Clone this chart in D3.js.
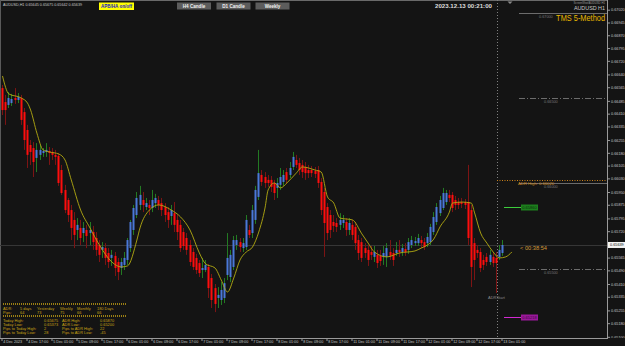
<!DOCTYPE html>
<html><head><meta charset="utf-8">
<script src="https://cdn.jsdelivr.net/npm/d3@7"></script>
<style>
html,body{margin:0;padding:0;background:#141414;overflow:hidden}
svg{display:block}
text{font-family:"Liberation Sans",Arial,sans-serif}
</style></head><body>
<svg id="c" width="625" height="346"></svg>
<script>
// ---------- DATA (AUDUSD H1, 4 Dec 2023 09:00 -> 13 Dec 2023 01:00) ----------
const opens=[.66560,.66478,.66461,.66472,.66502,.66490,.66502,.66419,.66314,.66226,
.66208,.66150,.66168,.66179,.66185,.66191,.66185,.66168,.66162,.66079,
.65962,.65903,.65844,.65786,.65727,.65739,.65709,.65727,.65709,.65715,
.65680,.65639,.65610,.65621,.65592,.65563,.65575,.65539,.65504,.65522,
.65551,.65621,.65727,.65815,.65874,.65903,.65862,.65874,.65856,.65885,
.65903,.65885,.65862,.65832,.65809,.65826,.65786,.65757,.65715,.65680,
.65639,.65598,.65563,.65533,.65492,.65492,.65510,.65445,.65386,.65328,
.65316,.65328,.65463,.65451,.65510,.65639,.65656,.65621,.65627,.65727,
.65709,.65786,.65921,.66050,.66038,.66021,.66021,.66003,.65974,.65992,
.66009,.66067,.66050,.66097,.66138,.66120,.66109,.66097,.66079,.66079,
.66073,.66079,.66009,.65950,.65862,.65815,.65774,.65768,.65757,.65768,
.65774,.65727,.65757,.65745,.65668,.65656,.65621,.65610,.65598,.65569,
.65581,.65575,.65569,.65569,.65598,.65592,.65592,.65610,.65598,.65615,
.65610,.65639,.65650,.65650,.65668,.65656,.65650,.65656,.65715,.65774,
.65826,.65856,.65891,.65933,.65933,.65903,.65891,.65891,.65891,.65891,
.65844,.65650,.65610,.65598,.65551,.65569,.65539,.65569,.65563,.65569,
.65592];
const highs=[.66578,.66520,.66537,.66526,.66560,.66531,.66520,.66443,.66344,.66255,
.66243,.66237,.66226,.66208,.66237,.66214,.66208,.66197,.66179,.66109,
.65992,.65915,.65874,.65832,.65797,.65786,.65774,.65757,.65774,.65751,
.65715,.65668,.65656,.65650,.65621,.65610,.65598,.65563,.65563,.65598,
.65680,.65786,.65874,.65950,.65986,.65950,.65915,.65903,.65962,.65939,
.65927,.65915,.65885,.65862,.65874,.65891,.65815,.65786,.65739,.65709,
.65668,.65621,.65587,.65551,.65563,.65551,.65528,.65469,.65410,.65392,
.65421,.65445,.65709,.65610,.65692,.65698,.65680,.65680,.65815,.65757,
.65874,.65986,.66197,.66079,.66067,.66050,.66044,.66021,.66032,.66091,
.66079,.66091,.66126,.66185,.66168,.66150,.66138,.66126,.66109,.66103,
.66097,.66103,.66032,.65974,.65885,.65844,.65815,.65797,.65826,.65815,
.65797,.65797,.65786,.65774,.65698,.65680,.65650,.65639,.65633,.65633,
.65610,.65610,.65633,.65650,.65668,.65621,.65656,.65668,.65645,.65650,
.65680,.65692,.65686,.65704,.65692,.65680,.65709,.65763,.65832,.65885,
.65927,.65974,.65962,.65962,.65950,.65927,.65915,.65915,.65909,.66109,
.65874,.65680,.65639,.65621,.65581,.65592,.65610,.65592,.65598,.65639,
.65668];
const lows=[.66402,.66344,.66443,.66455,.66467,.66472,.66344,.66197,.66091,.66109,
.66038,.66067,.66138,.66156,.66156,.66109,.66138,.66109,.65986,.65933,
.65826,.65774,.65668,.65621,.65668,.65639,.65656,.65621,.65639,.65610,
.65575,.65539,.65563,.65522,.65504,.65516,.65457,.65433,.65463,.65492,
.65522,.65598,.65698,.65797,.65844,.65832,.65844,.65815,.65832,.65856,
.65844,.65809,.65774,.65739,.65757,.65715,.65668,.65598,.65610,.65581,
.65516,.65492,.65469,.65451,.65445,.65480,.65328,.65269,.65245,.65269,
.65287,.65298,.65433,.65421,.65492,.65610,.65598,.65598,.65610,.65680,
.65680,.65763,.65903,.65986,.65974,.65980,.65950,.65903,.65915,.65962,
.65986,.65998,.66032,.66079,.66091,.66050,.66032,.66021,.66032,.66038,
.66032,.65974,.65815,.65569,.65668,.65680,.65715,.65715,.65727,.65739,
.65692,.65698,.65668,.65610,.65551,.65539,.65563,.65516,.65551,.65539,
.65504,.65516,.65522,.65510,.65551,.65516,.65575,.65569,.65575,.65575,
.65587,.65621,.65633,.65633,.65621,.65610,.65627,.65639,.65698,.65757,
.65809,.65844,.65874,.65891,.65832,.65844,.65850,.65856,.65850,.65639,
.65392,.65433,.65563,.65480,.65492,.65516,.65522,.65510,.65357,.65551,
.65575];
const closes=[.66431,.66431,.66502,.66496,.66490,.66508,.66373,.66255,.66168,.66185,
.66126,.66197,.66197,.66191,.66197,.66179,.66168,.66156,.66003,.65944,
.65844,.65815,.65739,.65698,.65757,.65680,.65739,.65692,.65727,.65656,
.65610,.65581,.65627,.65563,.65539,.65581,.65504,.65480,.65539,.65563,
.65668,.65774,.65856,.65915,.65933,.65874,.65885,.65856,.65903,.65915,
.65874,.65844,.65815,.65786,.65844,.65757,.65715,.65621,.65633,.65610,
.65539,.65510,.65492,.65474,.65504,.65522,.65386,.65316,.65293,.65346,
.65375,.65415,.65563,.65581,.65668,.65668,.65627,.65650,.65786,.65698,
.65844,.65962,.66061,.66009,.66003,.66003,.65980,.65944,.66003,.66038,
.66050,.66021,.66091,.66156,.66109,.66079,.66067,.66061,.66061,.66061,
.66056,.66003,.65844,.65768,.65709,.65727,.65751,.65745,.65786,.65786,
.65727,.65768,.65698,.65650,.65592,.65563,.65592,.65551,.65581,.65598,
.65533,.65545,.65592,.65621,.65575,.65551,.65610,.65598,.65621,.65598,
.65656,.65668,.65662,.65680,.65650,.65627,.65686,.65745,.65803,.65862,
.65903,.65944,.65944,.65915,.65856,.65874,.65874,.65880,.65874,.65680,
.65510,.65551,.65592,.65504,.65522,.65539,.65581,.65533,.65533,.65610,
.65639];
// moving average (yellow line) readings: bar index -> value
const maIdx=[0,2,6,8,9,11,13,15,18,20,22,25,28,31,35,38,40,43,44,47,50,54,57,60,63,65,68,70,72,74,76,78,80,82,84,85,87,89,91,94,96,100,102,104,106,108,112,115,117,119,123,127,132,134,136,138,140,143,144,147,150,151,153,155,157,159,161,163];
const maVal=[.66631,.66526,.66502,.66472,.66431,.66296,.66197,.66185,.66173,.66138,.66021,.65844,.65739,.65639,.65539,.65510,.65516,.65668,.65739,.65844,.65874,.65844,.65803,.65727,.65592,.65528,.65504,.65433,.65363,.65445,.65551,.65598,.65627,.65715,.65856,.65962,.66003,.65974,.66003,.66061,.66097,.66079,.66067,.65921,.65885,.65797,.65786,.65704,.65650,.65598,.65569,.65592,.65604,.65621,.65639,.65674,.65745,.65832,.65885,.65891,.65885,.65832,.65709,.65650,.65598,.65563,.65569,.65598];
// x axis labels
const xTickIdx=[0,8,16,24,32,40,48,56,64,72,80,88,96,104,112,120,128,136,144,152,160];
const xTickLabels=["4 Dec 2023","4 Dec 17:00","5 Dec 01:00","5 Dec 09:00","5 Dec 17:00","6 Dec 01:00","6 Dec 09:00","6 Dec 17:00","7 Dec 01:00","7 Dec 09:00","7 Dec 17:00","8 Dec 01:00","8 Dec 09:00","8 Dec 17:00","11 Dec 01:00","11 Dec 09:00","11 Dec 17:00","12 Dec 01:00","12 Dec 09:00","12 Dec 17:00","13 Dec 01:00"];
// y axis labels
const yTickVals=[0.67020,0.66945,0.66870,0.66795,0.66720,0.66640,0.66565,0.66485,0.66410,0.66335,0.66255,0.66180,0.66105,0.66030,0.65950,0.65875,0.65795,0.65720,0.65565,0.65490,0.65410,0.65335,0.65255,0.65180,0.65100];
// price levels
const roundLevels=[0.67000,0.66500,0.66000,0.65500];
const roundLevelDash=["","6,2,1,2","","6,2,1,2"];
const adrHigh=0.66020;
const greenLevel=0.65860;
const magentaLevel=0.65218;
const adrStartIdx=158.4;
const currentPrice=closes[closes.length-1];
// info panel
const adrHeaders=["ADR:","5 days","Yesterday","Weekly","Monthly","180 Days"];
const adrPips=["Pips:","64","73","75","66","66"];
const panelLeft=[["Today High:","0.65675"],["Today Low:","0.65373"],["Pips to Today High:","2"],["Pips to Today Low:","28"]];
const panelRight=[["ADR High:","0.65870"],["ADR Low:","0.65200"],["Pips to ADR High:","22"],["Pips to ADR Low:","-45"]];

// ---------- DRAW ----------
const W=625,H=346, R=607, B=338;
const svg=d3.select("#c");
svg.append("rect").attr("width",W).attr("height",H).attr("fill","#141414");
const x=d3.scaleLinear().domain([0,160]).range([2,502]);
const y=d3.scaleLinear().domain([0.65093,0.67077]).range([B,0]);

// frame
svg.append("line").attr("x1",0).attr("x2",W).attr("y1",0.5).attr("y2",0.5).attr("stroke","#6a6a6a");
svg.append("line").attr("x1",0.5).attr("x2",0.5).attr("y1",0).attr("y2",B).attr("stroke","#5a5a5a");

// current price line
svg.append("line").attr("x1",0).attr("x2",R).attr("y1",Math.round(y(currentPrice))+0.5).attr("y2",Math.round(y(currentPrice))+0.5).attr("stroke","#363636");

// ADR start vertical dotted line
svg.append("line").attr("x1",Math.round(x(adrStartIdx))+0.5).attr("x2",Math.round(x(adrStartIdx))+0.5).attr("y1",0).attr("y2",B).attr("stroke","#808080").attr("stroke-dasharray","1,2");

// round levels
roundLevels.forEach((v,i)=>{
  const yy=Math.round(y(v))+0.5;
  svg.append("line").attr("x1",519).attr("x2",R).attr("y1",yy).attr("y2",yy).attr("stroke","#6c6c6c").attr("stroke-dasharray",roundLevelDash[i]||null);
  svg.append("text").attr("x",i===0?539:544).attr("y",yy+4.2).attr("fill","#777").style("font-size","3.8px").text(v.toFixed(5));
});
// ADR high orange dotted
{
  const yy=Math.round(y(adrHigh))+0.5;
  svg.append("line").attr("x1",x(adrStartIdx)).attr("x2",R).attr("y1",yy).attr("y2",yy).attr("stroke","#c8801a").attr("stroke-dasharray","1,1.5");
  svg.append("text").attr("x",518).attr("y",yy+4.3).attr("fill","#d08a20").style("font-size","4.2px").text("ADR High: "+adrHigh.toFixed(5));
}
// green / magenta markers
[[greenLevel,"#3ccc3c","#1d7f1d","#0b300b"],[magentaLevel,"#d22ad2","#9a189a","#3a073a"]].forEach(([v,lc,bc,tc])=>{
  const yy=Math.round(y(v))+0.5;
  svg.append("line").attr("x1",x(160)+2).attr("x2",521).attr("y1",yy).attr("y2",yy).attr("stroke",lc).attr("stroke-width",1);
  svg.append("rect").attr("x",521).attr("y",yy-3).attr("width",17).attr("height",6).attr("fill",bc);
  svg.append("text").attr("x",529.5).attr("y",yy+1.5).attr("text-anchor","middle").attr("fill",tc).style("font-size","4px").text(v.toFixed(5));
});

// candles
const bars=d3.range(opens.length).map(i=>({i,o:opens[i],h:highs[i],l:lows[i],c:closes[i]}));
const bull=d=>d.c>d.o;
const small=d=>Math.abs(y(d.o)-y(d.c))<1.6;
const bodyColor=d=>bull(d)?(small(d)?"#8a62d2":"#4a78d8"):(small(d)?"#e8541c":"#ff0d0d");
const wickColor=d=>bull(d)?"#237a23":"#7c1414";
const cg=svg.append("g");
cg.selectAll("rect.w").data(bars).join("rect").attr("class","w")
  .attr("x",d=>Math.round(x(d.i))).attr("width",1)
  .attr("y",d=>y(d.h)).attr("height",d=>Math.max(1,y(d.l)-y(d.h)))
  .attr("fill",wickColor);
cg.selectAll("rect.b").data(bars).join("rect").attr("class","b")
  .attr("x",d=>Math.round(x(d.i))-0.5).attr("width",2)
  .attr("y",d=>y(Math.max(d.o,d.c))).attr("height",d=>Math.max(1,Math.abs(y(d.o)-y(d.c))))
  .attr("fill",bodyColor);

// MA line
const maPts=maIdx.map((k,j)=>[k,maVal[j]]);
svg.append("path").datum(maPts)
  .attr("d",d3.line().x(d=>x(d[0])+0.5).y(d=>y(d[1])).curve(d3.curveMonotoneX))
  .attr("fill","none").attr("stroke","#b4ac12").attr("stroke-width",0.9);

// right axis
svg.append("rect").attr("x",R).attr("y",0).attr("width",W-R).attr("height",H).attr("fill","#141414");
const gy=svg.append("g").attr("transform",`translate(${R},0)`)
  .call(d3.axisRight(y).tickValues(yTickVals).tickFormat(d3.format(".5f")).tickSize(3).tickPadding(1).tickSizeOuter(0));
gy.select(".domain").remove();
gy.selectAll(".tick line").attr("stroke","#9a9a9a");
gy.selectAll(".tick text").attr("fill","#c4c4c4").style("font-size","3.8px").style("font-family","Liberation Sans, Arial, sans-serif");
svg.append("line").attr("x1",R+0.5).attr("x2",R+0.5).attr("y1",0).attr("y2",B+1).attr("stroke","#9a9a9a");
// current price box
{
  const yy=y(currentPrice);
  svg.append("rect").attr("x",R+1).attr("y",yy-3).attr("width",18).attr("height",6).attr("fill","#f4f4f4");
  svg.append("text").attr("x",R+3).attr("y",yy+1.4).attr("fill","#111").style("font-size","3.8px").text(currentPrice.toFixed(5));
}

// bottom axis
svg.append("rect").attr("x",0).attr("y",B).attr("width",W).attr("height",H-B).attr("fill","#141414");
const gx=svg.append("g").attr("transform",`translate(0,${B})`)
  .call(d3.axisBottom(x).tickValues(xTickIdx).tickFormat((d,i)=>xTickLabels[i]).tickSize(3).tickSizeOuter(0));
gx.select(".domain").remove();
gx.selectAll(".tick line").attr("stroke","#9a9a9a").attr("transform","translate(-0.5,0)");
gx.selectAll(".tick text").attr("text-anchor","start").attr("x",0.8).attr("y",2.2).attr("dy","0.71em")
  .attr("fill","#c8c8c8").style("font-size","3.7px").style("font-family","Liberation Sans, Arial, sans-serif");
svg.append("line").attr("x1",0).attr("x2",R+1).attr("y1",B+0.5).attr("y2",B+0.5).attr("stroke","#9a9a9a");

// top texts & buttons
svg.append("text").attr("x",3).attr("y",5.6).attr("fill","#c8c8c8").style("font-size","4px")
  .attr("textLength",79).attr("lengthAdjust","spacingAndGlyphs").text("AUDUSD,H1  0.65645 0.65675 0.65642 0.65639");
svg.append("rect").attr("x",99).attr("y",2.5).attr("width",35).attr("height",7.5).attr("fill","#ffff00");
svg.append("text").attr("x",116.5).attr("y",8).attr("text-anchor","middle").attr("fill","#1818c8").style("font-size","5px").style("font-weight","bold")
  .attr("textLength",31).attr("lengthAdjust","spacingAndGlyphs").text("APB/HA on/off");
[["H4 Candle",177],["D1 Candle",216.5],["Weekly",255.5]].forEach(([t,bx])=>{
  svg.append("rect").attr("x",bx).attr("y",2.5).attr("width",34).attr("height",7).attr("fill","#5c5c5c");
  svg.append("text").attr("x",bx+17).attr("y",7.9).attr("text-anchor","middle").attr("fill","#f0f0f0").style("font-size","4.6px").style("font-weight","bold").text(t);
});
svg.append("text").attr("x",435).attr("y",8.2).attr("fill","#dcdcdc").style("font-size","5.6px").style("font-weight","bold")
  .attr("textLength",57).attr("lengthAdjust","spacingAndGlyphs").text("2023.12.13 00:21:00");
svg.append("path").attr("d","M507.5,1.5 L512.5,1.5 L510,4 Z").attr("fill","#8a8a8a");
svg.append("text").attr("x",605).attr("y",4.4).attr("text-anchor","end").attr("fill","#9a9a9a").style("font-size","2.8px").text("ScreenShot/AUDUSD H1");
svg.append("text").attr("transform","translate(605,10.2) scale(0.9,1)").attr("text-anchor","end").attr("fill","#c8c8c8").style("font-size","6px").text("AUDUSD H1");
svg.append("text").attr("transform","translate(605,21) scale(0.86,1)").attr("text-anchor","end").attr("fill","#e8b800").style("font-size","8.6px").text("TMS 5-Method");

// timer & ADRStart
svg.append("text").attr("x",520).attr("y",249.6).attr("fill","#d49a3a").style("font-size","5.4px")
  .attr("textLength",27).attr("lengthAdjust","spacingAndGlyphs").text("< 00:38:54");
svg.append("text").attr("x",488).attr("y",298.6).attr("fill","#8a8a8a").style("font-size","4px").text("ADRStart");

// info panel
const gold="#c8a214";
[304,316].forEach(yy=>svg.append("line").attr("x1",3).attr("x2",127).attr("y1",yy).attr("y2",yy).attr("stroke",gold).attr("stroke-width",1.4).attr("stroke-dasharray","1,1"));
const colX=[3,20,37,60,77,97];
adrHeaders.forEach((t,k)=>svg.append("text").attr("x",colX[k]).attr("y",309.6).attr("fill",gold).style("font-size","3.9px").text(t));
adrPips.forEach((t,k)=>svg.append("text").attr("x",colX[k]).attr("y",313.6).attr("fill",gold).style("font-size","3.9px").text(t));
panelLeft.forEach(([a,b],k)=>{
  svg.append("text").attr("x",3).attr("y",321.6+k*4).attr("fill",gold).style("font-size","3.9px").text(a);
  svg.append("text").attr("x",44).attr("y",321.6+k*4).attr("fill",gold).style("font-size","3.9px").text(b);
});
panelRight.forEach(([a,b],k)=>{
  svg.append("text").attr("x",62).attr("y",321.6+k*4).attr("fill",gold).style("font-size","3.9px").text(a);
  svg.append("text").attr("x",100).attr("y",321.6+k*4).attr("fill",gold).style("font-size","3.9px").text(b);
});
</script>
</body></html>
